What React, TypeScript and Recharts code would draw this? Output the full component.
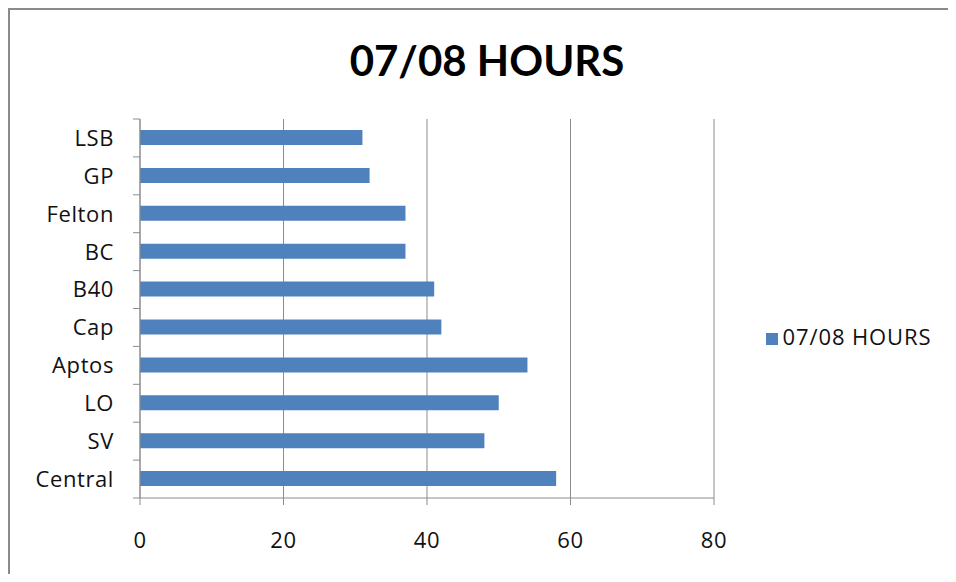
import React from 'react';
import { BarChart, Bar, XAxis, YAxis, CartesianGrid, Legend } from 'recharts';

const categories = ['LSB', 'GP', 'Felton', 'BC', 'B40', 'Cap', 'Aptos', 'LO', 'SV', 'Central'];
const hours = [31, 32, 37, 37, 41, 42, 54, 50, 48, 58];
const xTicks = [0, 20, 40, 60, 80];
const seriesName = '07/08 HOURS';
const titleText = '07/08 HOURS';

const data = categories.map((c, i) => ({ name: c, value: hours[i] }));

const W = 956;
const H = 582;
const M = { top: 119, right: 242, bottom: 34, left: 10 };
const X_AXIS_H = 50;
const Y_AXIS_W = 130;
const plotH = H - M.top - M.bottom - X_AXIS_H;
const band = plotH / categories.length;
const FONT = '"Open Sans", Lato, sans-serif';
const TITLE_FONT = 'Lato, "Open Sans", sans-serif';
const GRID = '#8c8c8c';
const FRAME = '#8a8a8a';
const LS = 0.6;

const YTick = (props: any) => {
  const { x, y, payload, index } = props;
  return (
    <g>
      <line x1={x - 7} x2={x} y1={y - band / 2} y2={y - band / 2} stroke={GRID} strokeWidth={1} />
      {index === categories.length - 1 && (
        <line x1={x - 7} x2={x} y1={y + band / 2} y2={y + band / 2} stroke={GRID} strokeWidth={1} />
      )}
      <text x={x - 26} y={y} dy="0.36em" textAnchor="end" fontSize={22} letterSpacing={LS} fill="#111" fontFamily={FONT}>
        {payload.value}
      </text>
    </g>
  );
};

export default function App() {
  return (
    <div style={{ position: 'relative', width: W, height: H, margin: -8, overflow: 'hidden', background: '#fff' }}>
      <div
        style={{
          position: 'absolute',
          left: 0,
          width: 974,
          top: 32,
          textAlign: 'center',
          fontFamily: TITLE_FONT,
          fontWeight: 700,
          fontSize: 42,
          lineHeight: '56px',
          color: '#000',
        }}
      >
        {titleText}
      </div>
      <div style={{ position: 'absolute', left: 0, top: 0 }}>
        <BarChart width={W} height={H} data={data} layout="vertical" margin={M}>
          <CartesianGrid horizontal={false} vertical={true} stroke={GRID} strokeWidth={1} />
          <XAxis
            type="number"
            domain={[0, 80]}
            ticks={xTicks}
            interval={0}
            height={X_AXIS_H}
            tickSize={7}
            tickMargin={27}
            stroke={GRID}
            tick={{ fontSize: 22, fill: '#111', fontFamily: FONT, letterSpacing: LS }}
          />
          <YAxis
            type="category"
            dataKey="name"
            width={Y_AXIS_W}
            tickLine={false}
            tickSize={0}
            tickMargin={0}
            stroke={GRID}
            tick={<YTick />}
            interval={0}
          />
          <Legend
            align="center"
            verticalAlign="middle"
            layout="horizontal"
            iconType="square"
            iconSize={12}
            wrapperStyle={{
              left: 764,
              top: 321,
              width: 180,
              textAlign: 'left',
              fontFamily: FONT,
              fontSize: 22,
              letterSpacing: 0.9,
              whiteSpace: 'nowrap',
            }}
            formatter={(v: any) => <span style={{ color: '#111' }}>{v}</span>}
          />
          <Bar dataKey="value" name={seriesName} fill="#4F81BD" barSize={15} isAnimationActive={false} />
        </BarChart>
      </div>
      <div style={{ position: 'absolute', left: 8, top: 8, width: 940, height: 2, background: FRAME, zIndex: 5 }} />
      <div style={{ position: 'absolute', left: 8, top: 8, width: 2, height: 566, background: FRAME, zIndex: 5 }} />
    </div>
  );
}
